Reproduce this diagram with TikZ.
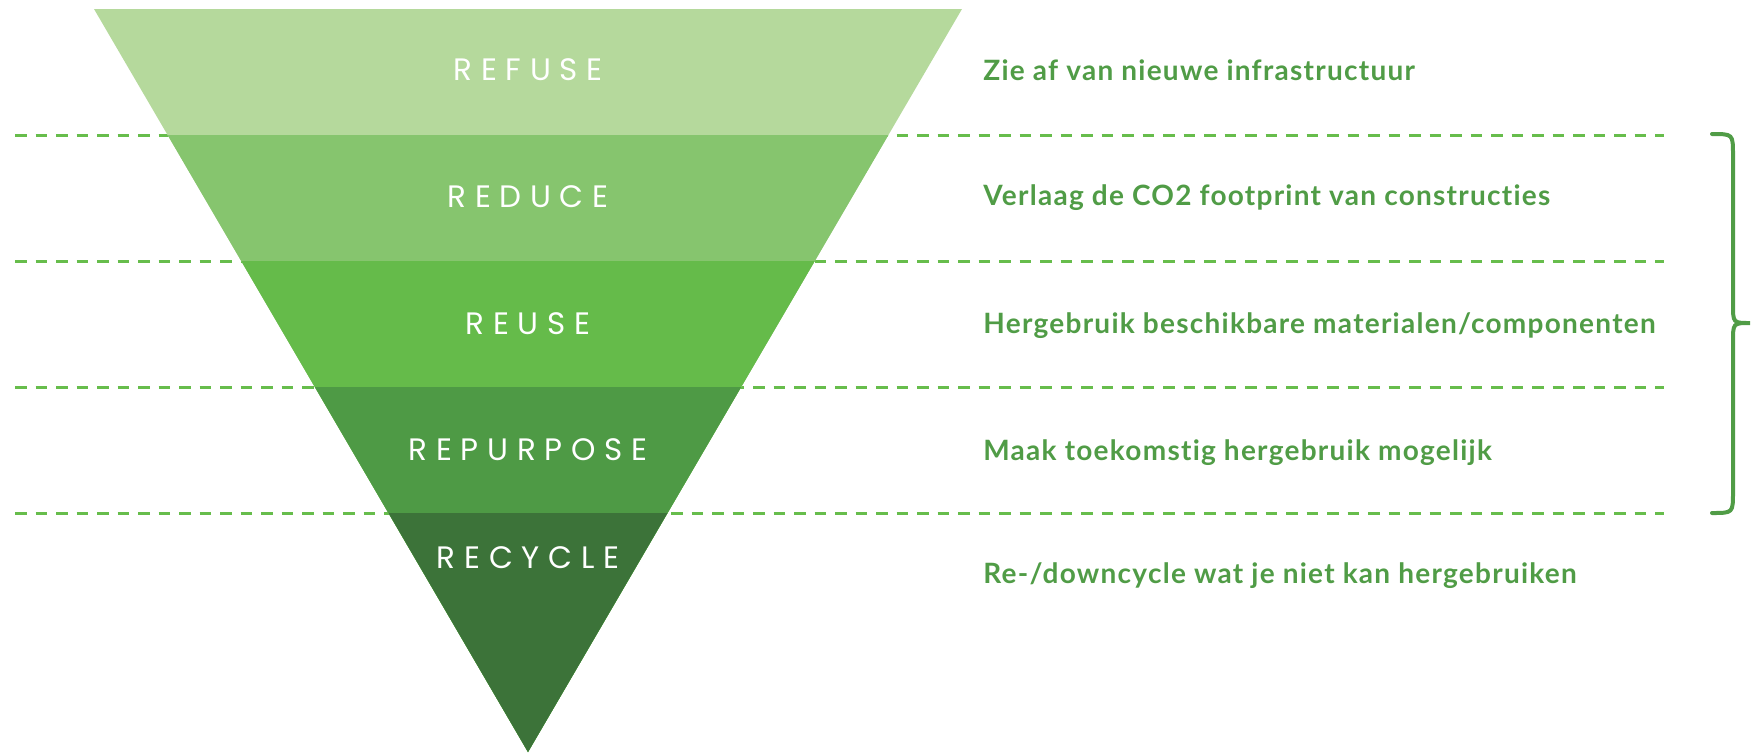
\documentclass[tikz,border=0pt]{standalone}
\usepackage{fontspec}
\setmainfont{Lato}
\newfontfamily\labelfont[LetterSpace=28]{Poppins}
\newfontfamily\notefont[LetterSpace=4.5,Ligatures={NoCommon,NoRare}]{Lato}

\definecolor{refusegreen}{RGB}{181,217,156}
\definecolor{reducegreen}{RGB}{134,197,110}
\definecolor{reusegreen}{RGB}{101,187,74}
\definecolor{repurposegreen}{RGB}{78,154,69}
\definecolor{recyclegreen}{RGB}{60,115,57}
\definecolor{linegreen}{RGB}{103,189,76}
\definecolor{textgreen}{RGB}{80,156,70}

\tikzset{
  levelline/.style={linegreen, line width=1.5pt, dash pattern=on 5.8pt off 4.45pt},
  levellabel/.style={text=white, font=\labelfont\fontsize{15.5}{18}\selectfont, inner sep=0pt},
  levelnote/.style={text=textgreen, font=\notefont\bfseries\fontsize{14}{17}\selectfont, anchor=base west, inner sep=0pt},
  bracket/.style={textgreen, line width=2pt, line cap=round}
}

\begin{document}
\begin{tikzpicture}[x=0.5pt,y=-0.5pt]
    \useasboundingbox (0,0) rectangle (1753,752);
    \foreach \y in {135,261,387,513}
        \draw[levelline] (15,\y) -- (1664,\y);
    \fill[refusegreen] (94,9) -- (962,9) -- (528,752) -- cycle;
    \fill[reducegreen] (167.6,135) -- (888.4,135) -- (528,752) -- cycle;
    \fill[reusegreen] (241.3,261) -- (814.7,261) -- (528,752) -- cycle;
    \fill[repurposegreen] (314.9,387) -- (741.1,387) -- (528,752) -- cycle;
    \fill[recyclegreen] (388.6,513) -- (667.4,513) -- (528,752) -- cycle;

    \node[levellabel] (refuse) at (528,70) {REFUSE};
    \node[levellabel] (reduce) at (528,196.5) {REDUCE};
    \node[levellabel] (reuse) at (528,323.5) {REUSE};
    \node[levellabel] (repurpose) at (528,450) {REPURPOSE};
    \node[levellabel] (recycle) at (528,558) {RECYCLE};

    \node[levelnote] (refusenote) at (983,80) {Zie af van nieuwe infrastructuur};
    \node[levelnote] (reducenote) at (983,205) {Verlaag de CO2 footprint van constructies};
    \node[levelnote] (reusenote) at (983,333) {Hergebruik beschikbare materialen/componenten};
    \node[levelnote] (repurposenote) at (983,460) {Maak toekomstig hergebruik mogelijk};
    \node[levelnote] (recyclenote) at (983,583) {Re-/downcycle wat je niet kan hergebruiken};

    \draw[bracket] (1712,134) .. controls (1733,134) .. (1733,155) -- (1733,304)
        .. controls (1733,323) .. (1750,323) .. controls (1733,323) .. (1733,342)
        -- (1733,492) .. controls (1733,513) .. (1712,513);
\end{tikzpicture}
\end{document}
